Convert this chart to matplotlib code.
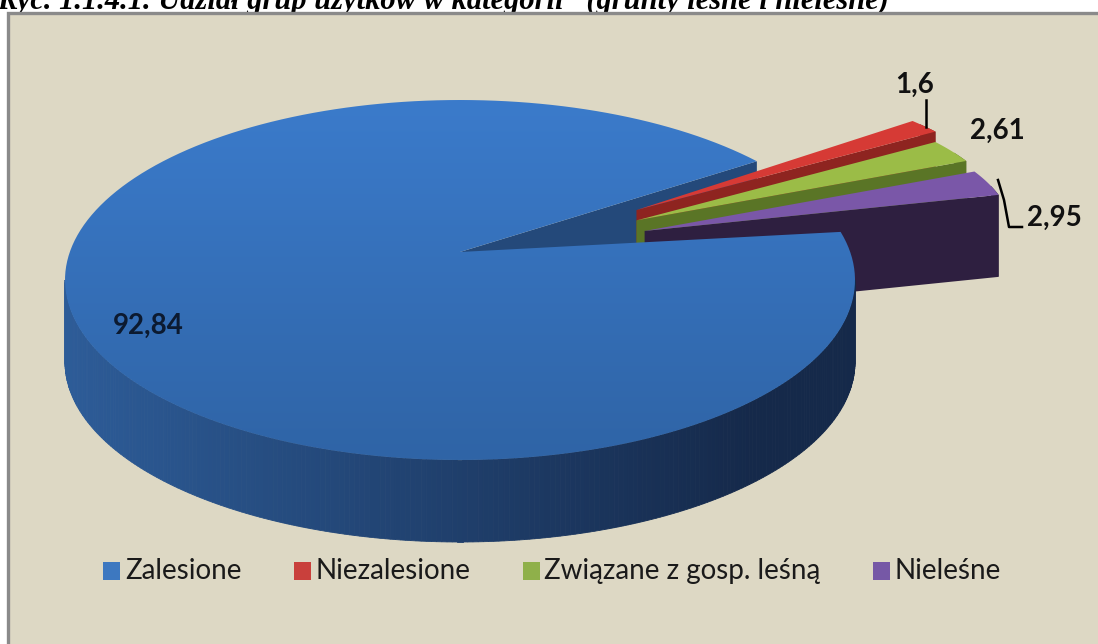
import numpy as np
import matplotlib.pyplot as plt
from matplotlib.patches import Polygon, Rectangle
from matplotlib.colors import to_rgb

# ----------------------------------------------------
# Data
# ----------------------------------------------------

categories = ["Zalesione", "Niezalesione", "Związane z gosp. leśną", "Nieleśne"]
shares = [92.84, 1.6, 2.61, 2.95]
value_labels = ["92,84", "1,6", "2,61", "2,95"]

title = "Ryc. 1.1.4.1. Udział grup użytków w kategorii   (grunty leśne i nieleśne)"

# ----------------------------------------------------
# Style / layout
# ----------------------------------------------------

top_colors = ["#3a77c2", "#d63a35", "#9bbc47", "#7a57a8"]
cut_colors = ["#24497a", "#8e2420", "#5a7526", "#2e1f40"]
legend_colors = ["#3d78c0", "#c9403c", "#8fb04a", "#7658a6"]
explode = [0.0, 0.57, 0.52, 0.50]     # fraction of radius

CX, CY = 460, 280        # ellipse centre (pixels)
RX, RY = 395, 180        # ellipse radii
LIFT = 28                # apex sits a bit above centre (perspective)
DEPTH = 82
START = 375.5            # first slice starts here, goes clockwise
EXPL_FLAT = 0.3
SMALL_SX, SMALL_SY = 0.93, 0.75   # exploded slices look further away

fig = plt.figure(figsize=(10.98, 6.44), dpi=100)
ax = fig.add_axes([0, 0, 1, 1])
ax.set_xlim(0, 1098)
ax.set_ylim(644, 0)
ax.axis("off")

# frame
ax.add_patch(Rectangle((8, 13), 1100, 650, facecolor="#ddd8c4",
                       edgecolor="#8a8a8a", lw=2.4, zorder=1))

ax.text(-3, 9, title, fontsize=22, family="Liberation Serif",
        fontweight="bold", style="italic", va="baseline", ha="left",
        zorder=0.5)

# slice angles (math angles, counter-clockwise)
slices = []
cum = 0.0
for v in shares:
    hi = START - cum * 3.6
    lo = hi - v * 3.6
    cum += v
    slices.append((lo, hi))

offsets = []
for (lo, hi), e in zip(slices, explode):
    b = np.radians((lo + hi) / 2)
    d = e * RX
    offsets.append((d * np.cos(b), -d * EXPL_FLAT * np.sin(b)))


def apex(i, z=0.0):
    off = offsets[i]
    return (CX + off[0], CY + off[1] - LIFT + z)


def rim(i, a, z=0.0):
    r = np.radians(a)
    ax0, ay0 = apex(i)
    if explode[i] == 0:
        cy, sx, sy = ay0 + LIFT, 1.0, 1.0
    else:
        cy, sx, sy = ay0, SMALL_SX, SMALL_SY
    return (ax0 + RX * sx * np.cos(r), cy - RY * sy * np.sin(r) + z)


def top_face(i):
    lo, hi = slices[i]
    arc = [rim(i, a) for a in np.linspace(lo, hi, 200)]
    return [apex(i)] + arc


def cut_face(i, a):
    return [apex(i), rim(i, a), rim(i, a, DEPTH), apex(i, DEPTH)]


def mix(c1, c2, t):
    c1, c2 = np.array(to_rgb(c1)), np.array(to_rgb(c2))
    return tuple(c1 + (c2 - c1) * t)


# blue cut face (behind the exploded slices)
ax.add_patch(Polygon(cut_face(0, slices[0][0]), closed=True,
                     facecolor=cut_colors[0], edgecolor="none", zorder=2))

# exploded small slices, back to front
for i in [1, 2, 3]:
    lo, hi = slices[i]
    # outer rim side (only the small visible end)
    arc = np.linspace(lo, min(hi, lo + 4), 20)
    side = [rim(i, a) for a in arc] + [rim(i, a, DEPTH) for a in arc[::-1]]
    ax.add_patch(Polygon(side, closed=True, facecolor=mix(cut_colors[i], "#000000", 0.15),
                         edgecolor="none", zorder=2))
    ax.add_patch(Polygon(cut_face(i, lo), closed=True,
                         facecolor=cut_colors[i], edgecolor="none", zorder=2))
    ax.add_patch(Polygon(top_face(i), closed=True,
                         facecolor=top_colors[i], edgecolor="none", zorder=2))

# blue outer side with shading
angs = np.linspace(180, 360, 240)
for a1, a2 in zip(angs[:-1], angs[1:]):
    p1, p2 = rim(0, a1), rim(0, a2)
    t = (p1[0] - (CX - RX)) / (2 * RX)
    col = mix("#2d5c98", "#15294a", min(1, t * 1.15))
    quad = [p1, p2, rim(0, a2, DEPTH), rim(0, a1, DEPTH)]
    ax.add_patch(Polygon(quad, closed=True, facecolor=col,
                         edgecolor=col, lw=0.6, zorder=3))

# blue top face with vertical gradient
blue_poly = Polygon(top_face(0), closed=True, facecolor="none",
                    edgecolor="none", zorder=4)
ax.add_patch(blue_poly)
grad = np.linspace(0, 1, 256)
cmap_cols = np.array([mix("#3b7bcb", "#2f64a6", t) for t in grad])
img = ax.imshow(cmap_cols[:, None, :].repeat(2, axis=1),
                extent=(CX - RX, CX + RX, CY + RY, CY - RY),
                aspect="auto", zorder=4, interpolation="bilinear")
img.set_clip_path(blue_poly)
ax.set_xlim(0, 1098)
ax.set_ylim(644, 0)

# ----------------------------------------------------
# Value labels
# ----------------------------------------------------

lab_kw = dict(fontsize=20, fontweight="bold", family="Lato",
              zorder=6, ha="center", va="center")
ax.text(148, 326, value_labels[0], color="#0c1a30", **lab_kw)
ax.text(915, 85, value_labels[1], color="#111111", **lab_kw)
ax.plot([926, 926], [100, 127], color="black", lw=1.8, zorder=6)
ax.text(997, 131, value_labels[2], color="#111111", **lab_kw)
ax.text(1054, 218, value_labels[3], color="#111111", **lab_kw)
ax.plot([998, 1004, 1009, 1022], [180, 200, 227, 227], color="black",
        lw=1.8, zorder=6)

# ----------------------------------------------------
# Legend (drawn by hand to keep the spacing of the original)
# ----------------------------------------------------

fig.canvas.draw()
renderer = fig.canvas.get_renderer()
x = 103
for name, col in zip(categories, legend_colors):
    ax.add_patch(Rectangle((x, 562), 17, 18, facecolor=col,
                           edgecolor="none", zorder=6))
    t = ax.text(x + 22, 571, name, fontsize=20, family="Lato",
                color="#1a1a1a", va="center", ha="left", zorder=6)
    bb = t.get_window_extent(renderer)
    x = x + 22 + bb.width + 52

fig.savefig("out.png", dpi=100)
